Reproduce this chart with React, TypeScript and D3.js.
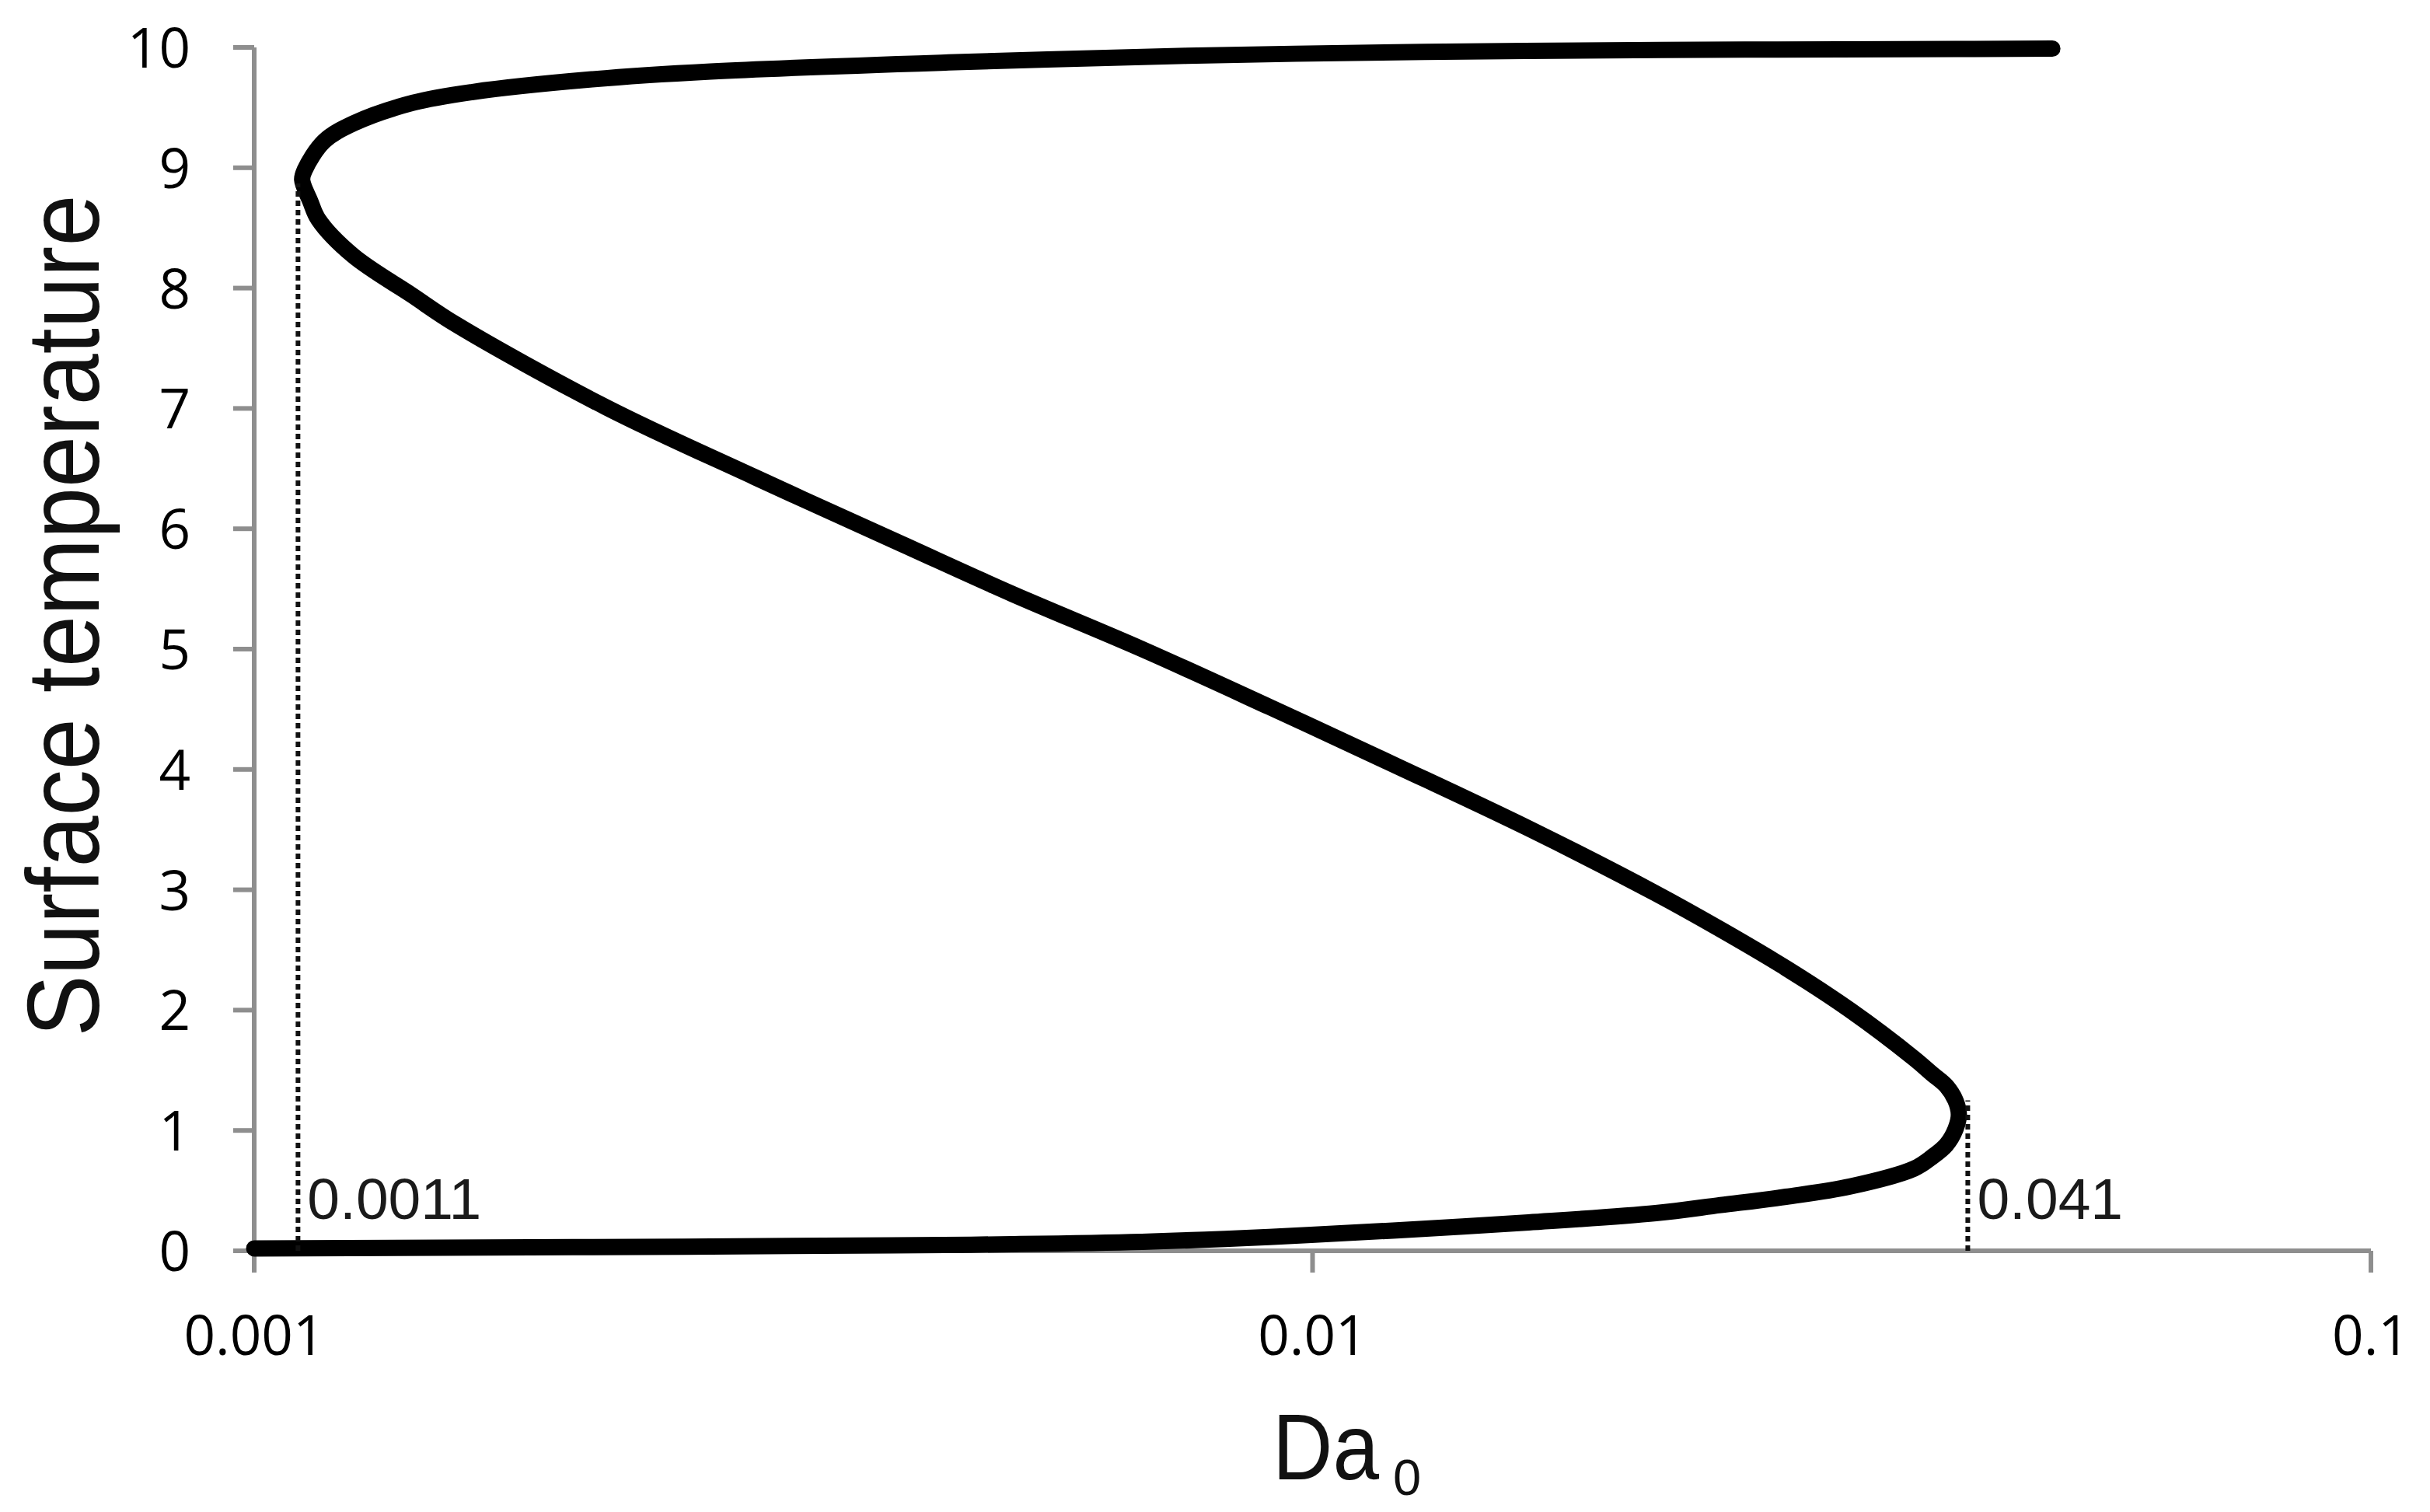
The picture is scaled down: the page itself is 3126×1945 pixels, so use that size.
import React from 'react';
import * as d3 from 'd3';

// lower (cold) branch, from Da0 = 0.001 to the right turning point
const lowerDa = [0.001, 0.002, 0.004, 0.0052, 0.0069, 0.0091, 0.012, 0.016, 0.0211, 0.0243, 0.028, 0.0322, 0.037, 0.0385, 0.0397, 0.0405];
const lowerT = [0.02, 0.03, 0.045, 0.055, 0.075, 0.115, 0.17, 0.236, 0.313, 0.38, 0.449, 0.534, 0.682, 0.78, 0.88, 1.01];

// middle (unstable) branch, from the right turning point back to the left one
const middleDa = [0.0408, 0.0405, 0.0397, 0.0385, 0.037, 0.0322, 0.028, 0.0243, 0.0211, 0.016, 0.012, 0.0091, 0.0069, 0.0052, 0.0041, 0.00297, 0.00215, 0.00155, 0.00141, 0.00124, 0.00115, 0.00113, 0.00111];
const middleT = [1.13, 1.25, 1.37, 1.47, 1.6, 2.0, 2.35, 2.67, 2.97, 3.51, 4.03, 4.52, 5.0, 5.46, 5.87, 6.43, 7.01, 7.7, 7.94, 8.27, 8.57, 8.72, 8.9];

// upper (hot) branch
const upperDa = [0.001116, 0.001164, 0.001242, 0.001413, 0.001609, 0.002085, 0.0027, 0.00453, 0.0076, 0.01276, 0.0214, 0.036, 0.05];
const upperT = [8.98, 9.22, 9.37, 9.54, 9.63, 9.735, 9.8, 9.875, 9.93, 9.963, 9.979, 9.985, 9.99];

// turning points marked with dotted lines
const markDa = [0.0011, 0.0416];
const markT = [8.87, 1.25];
const markLabels = ['0.0011', '0.041'];

const xTicks = [0.001, 0.01, 0.1];
const xTickLabels = ['0.001', '0.01', '0.1'];
const yTicks = [0, 1, 2, 3, 4, 5, 6, 7, 8, 9, 10];

const W = 3126;
const H = 1945;

export default function App() {
    const x = d3.scaleLog().domain([0.001, 0.1]).range([327, 3050]);
    const y = d3.scaleLinear().domain([0, 10]).range([1609, 61]);

    const pts: [number, number][] = [];
    lowerDa.forEach((d, i) => pts.push([d, lowerT[i]]));
    middleDa.forEach((d, i) => pts.push([d, middleT[i]]));
    upperDa.forEach((d, i) => pts.push([d, upperT[i]]));

    const line = d3.line<[number, number]>()
        .x(d => x(d[0]))
        .y(d => y(d[1]))
        .curve(d3.curveCatmullRom.alpha(0.5));

    const axisColor = '#8e8e8e';
    const tickFont = '"Open Sans", "Liberation Sans", sans-serif';
    const narrow = '"Liberation Sans Narrow", "Liberation Sans", sans-serif';

    return (
        <div>
            <style>{'body{margin:0;}'}</style>
            <svg width={W} height={H} style={{display: 'block', background: '#fff'}}>
                {/* axes */}
                <line x1={x(0.001)} x2={x(0.001)} y1={y(10)} y2={y(0) + 28} stroke={axisColor} strokeWidth={6}/>
                <line x1={x(0.001)} x2={x(0.1)} y1={y(0)} y2={y(0)} stroke={axisColor} strokeWidth={6}/>
                {yTicks.map(t => (
                    <g key={'y' + t}>
                        <line x1={x(0.001) - 27} x2={x(0.001)} y1={y(t)} y2={y(t)} stroke={axisColor} strokeWidth={6}/>
                        <text x={245} y={y(t) + 26} textAnchor="end" fontFamily={tickFont} fontSize={71} fill="#000">{t}</text>
                    </g>
                ))}
                {xTicks.map((t, i) => (
                    <g key={'x' + t}>
                        <line x1={x(t)} x2={x(t)} y1={y(0)} y2={y(0) + 28} stroke={axisColor} strokeWidth={6}/>
                        <text x={x(t)} y={1743} textAnchor="middle" fontFamily={tickFont} fontSize={71} fill="#000">{xTickLabels[i]}</text>
                    </g>
                ))}

                {/* S-curve */}
                <path d={line(pts) || ''} fill="none" stroke="#000" strokeWidth={21} strokeLinecap="round" strokeLinejoin="round"/>

                {/* dotted markers at the turning points */}
                {markDa.map((d, i) => (
                    <g key={'m' + i}>
                        <line x1={x(d)} x2={x(d)} y1={y(0)} y2={y(markT[i])} stroke="#111" strokeWidth={6} strokeDasharray="7 5"/>
                        <text x={x(d) + 12} y={1568} fontFamily='"Liberation Sans", Arial, sans-serif' fontSize={75} fill="#1a1a1a">{markLabels[i]}</text>
                    </g>
                ))}

                {/* axis titles */}
                <text transform="translate(127,792) rotate(-90)" textAnchor="middle"
                      fontFamily={narrow} fontSize={131}
                      textLength={1083} lengthAdjust="spacingAndGlyphs" fill="#111">Surface temperature</text>
                <text x={1637} y={1903} fontFamily={narrow} fontSize={120}
                      textLength={137} lengthAdjust="spacingAndGlyphs" fill="#111">Da</text>
                <text x={1792} y={1923} fontFamily={narrow} fontSize={65} fill="#111">0</text>
            </svg>
        </div>
    );
}
